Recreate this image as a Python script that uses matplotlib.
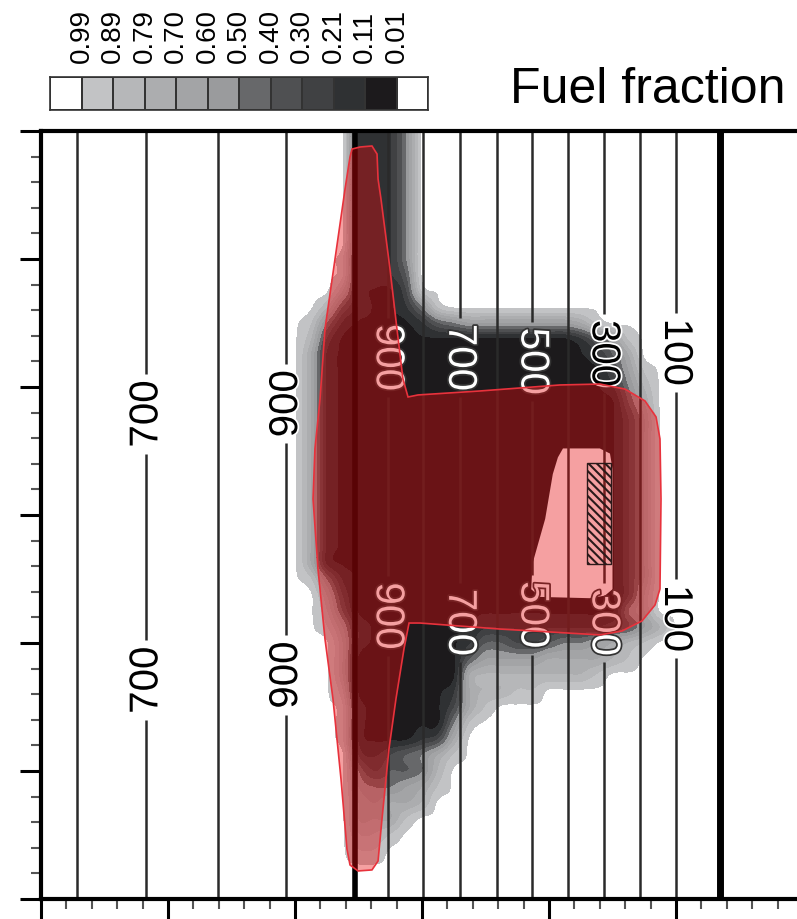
import matplotlib
matplotlib.use('Agg')
import matplotlib.pyplot as plt
import matplotlib.patheffects as pe
import numpy as np
from matplotlib.colors import ListedColormap, BoundaryNorm
from matplotlib.patches import Polygon, Rectangle
from matplotlib.ticker import MultipleLocator

plt.rcParams['font.family'] = 'Liberation Sans'
plt.rcParams['hatch.linewidth'] = 1.5

# fuel fraction bands of the colour bar and their greys (low -> high)
levels = [0.01, 0.11, 0.21, 0.30, 0.40, 0.50, 0.60, 0.70, 0.79, 0.89, 0.99]
band_colors = ['#1c1a1c', '#2f3133', '#404143', '#4f5052', '#67686a',
               '#9a9b9d', '#a3a4a6', '#acadaf', '#b6b7b9', '#c2c3c5']

# fuel field read on a grid (x 2.0..5.25, y 6.0..0.0, step 0.125)
# each digit = burnt share in tenths, fuel fraction = 1 - digit/10
grid_x = np.linspace(2.0, 5.25, 27)
grid_y = np.linspace(6.0, 0.0, 49)
burnt_rows = [
    "000088850000000000000000000",
    "000088850000000000000000000",
    "000088850000000000000000000",
    "000088850000000000000000000",
    "000088850000000000000000000",
    "000088850000000000000000000",
    "000088850000000000000000000",
    "000088850000000000000000000",
    "000188850000000000000000000",
    "000188860000000000000000000",
    "000389971000000000000000000",
    "002689985100000000000000000",
    "015899998654444444310000000",
    "027999999999999999864100000",
    "038999999999999999986300000",
    "038999999999999999997410000",
    "038999999999999999998520000",
    "038999999999999999999630000",
    "038999999999999999999740000",
    "038999999999999999999740000",
    "038999999999999999999740000",
    "038999999999999999999740000",
    "038999999999999999999740000",
    "038999999999999999999740000",
    "038999999999999999999740000",
    "038999999999999999999740000",
    "038999999999999999999740000",
    "038999999999999999999740000",
    "015899999999999999999740000",
    "003799999999999999999730000",
    "002699999999999999999530000",
    "001489999999888888887642000",
    "000389999998667765543210000",
    "000399999996444433332100000",
    "000399999993222222210000000",
    "000299999983221100000000000",
    "000189999973100000000000000",
    "000189999951000000000000000",
    "000189998730000000000000000",
    "000078765310000000000000000",
    "000057665200000000000000000",
    "000045543100000000000000000",
    "000034332000000000000000000",
    "000033310000000000000000000",
    "000022100000000000000000000",
    "000011000000000000000000000",
    "000000000000000000000000000",
    "000000000000000000000000000",
    "000000000000000000000000000",
]
fuel = 1 - np.array([[int(c) for c in row] for row in burnt_rows]) / 10

# fully consumed zone around the burner (fuel < 0.01)
depleted_x = [4.11, 4.40, 4.48, 4.50, 4.50, 4.44, 4.32, 3.93, 3.86, 3.87, 3.97, 4.03, 4.07]
depleted_y = [3.52, 3.52, 3.48, 3.36, 2.42, 2.37, 2.35, 2.36, 2.42, 2.62, 2.97, 3.32, 3.45]

# burner (hatched): x, y, width, height
burner = (4.30, 2.62, 0.19, 0.79)

# flame region (red overlay)
flame_x = [2.449, 2.512, 2.606, 2.646, 2.654, 2.677, 2.748, 2.803, 2.850, 2.890,
           2.969, 3.457, 4.087, 4.402, 4.598, 4.756, 4.843, 4.874, 4.882, 4.874,
           4.835, 4.732, 4.575, 4.402, 3.614, 2.984, 2.898, 2.858, 2.795, 2.740,
           2.685, 2.654, 2.606, 2.496, 2.433, 2.409, 2.362, 2.299, 2.236, 2.181,
           2.142, 2.157, 2.197, 2.236, 2.315, 2.394, 2.433]
flame_y = [5.859, 5.875, 5.883, 5.820, 5.625, 5.469, 4.922, 4.453, 4.063, 3.922,
           3.938, 3.969, 4.016, 4.023, 3.984, 3.891, 3.766, 3.594, 3.125, 2.422,
           2.297, 2.172, 2.094, 2.063, 2.109, 2.156, 2.156, 1.953, 1.563, 1.172,
           0.625, 0.297, 0.227, 0.219, 0.266, 0.391, 0.938, 1.563, 2.031, 2.578,
           3.125, 3.516, 3.906, 4.453, 5.000, 5.547, 5.797]

# isotherms (vertical) and the two walls
iso_x = [0.28, 0.83, 1.39, 1.93, 2.73, 3.01, 3.30, 3.59, 3.87, 4.15, 4.43, 4.72, 5.00]
iso_T = [600, 700, 800, 900, 900, 800, 700, 600, 500, 400, 300, 200, 100]
wall_x = [2.47, 5.35]

# which isotherms carry a label, and where
label_line = [1, 3, 1, 3, 4, 6, 8, 10, 12, 4, 6, 8, 10, 12]
label_y = [3.79, 3.87, 1.71, 1.75, 4.23, 4.23, 4.20, 4.26, 4.27, 2.21, 2.16, 2.22, 2.16, 2.19]
label_color = ['k', 'k', 'k', 'k', 'w', 'w', 'w', 'k', 'k', 'w', 'w', 'w', 'w', 'k']

W, H = 797, 920
fig = plt.figure(figsize=(W / 100, H / 100), dpi=100)
ax = fig.add_axes([41 / W, 20 / H, 7 * 127 / W, 768 / H])

cmap = ListedColormap(band_colors).with_extremes(under='white', over='white')
norm = BoundaryNorm(levels, cmap.N)

dx = grid_x[1] - grid_x[0]
dy = grid_y[0] - grid_y[1]
ax.imshow(fuel, cmap=cmap, norm=norm, origin='upper', aspect='auto',
          extent=[grid_x[0] - dx / 2, grid_x[-1] + dx / 2,
                  grid_y[-1] - dy / 2, grid_y[0] + dy / 2],
          interpolation='catrom', interpolation_stage='data', zorder=0)
ax.add_patch(Polygon(np.column_stack([depleted_x, depleted_y]), closed=True,
                     facecolor='white', edgecolor='none', zorder=0.5))

# isotherm lines, broken where a label sits
gap = 0.31
for i, (x, T) in enumerate(zip(iso_x, iso_T)):
    ys = sorted(label_y[k] for k in range(len(label_line)) if label_line[k] == i)
    lo = 0.0
    for yl in ys:
        ax.vlines(x, lo, yl - gap, color='#2a2a2a', lw=1.8, zorder=1)
        lo = yl + gap
    ax.vlines(x, lo, 6.0, color='#2a2a2a', lw=1.8, zorder=1)
ax.vlines(wall_x[0], 0, 6, color='black', lw=4.0, zorder=1)
ax.vlines(wall_x[1], 0, 6, color='black', lw=5.0, zorder=1)

for k, i in enumerate(label_line):
    rot = 90 if iso_x[i] < wall_x[0] else -90
    halo = 'white' if label_color[k] == 'k' else '#333333'
    ax.text(iso_x[i], label_y[k], str(iso_T[i]), rotation=rot, ha='center', va='center',
            fontsize=29, color=label_color[k], zorder=2,
            path_effects=[pe.withStroke(linewidth=2.5, foreground=halo)])

ax.add_patch(Polygon(np.column_stack([flame_x, flame_y]), closed=True,
                     facecolor=(0.90, 0.04, 0.05, 0.39), edgecolor='#e8323c',
                     lw=1.2, zorder=4))
ax.add_patch(Rectangle(burner[:2], burner[2], burner[3], fill=False, hatch='\\\\\\\\',
                       edgecolor='#2a1a1a', lw=1.0, zorder=5))

ax.set_xlim(0, 7)
ax.set_ylim(0, 6)
for s in ax.spines.values():
    s.set_linewidth(3)
ax.xaxis.set_major_locator(MultipleLocator(1))
ax.xaxis.set_minor_locator(MultipleLocator(0.2))
ax.yaxis.set_major_locator(MultipleLocator(1))
ax.yaxis.set_minor_locator(MultipleLocator(0.2))
ax.tick_params(which='major', direction='out', length=15, width=2.2,
               labelbottom=False, labelleft=False)
ax.tick_params(which='minor', direction='out', length=7, width=1.5, color='#555555')

# colour bar (0.99 on the left, as in the figure)
cax = fig.add_axes([50 / W, 809 / H, 378 / W, 33 / H])
mids = [(a + b) / 2 for a, b in zip(levels[:-1], levels[1:])]
cells = [1.0] + mids[::-1] + [0.0]
cax.pcolormesh(np.arange(len(cells) + 1), [0, 1], [cells], cmap=cmap, norm=norm,
               edgecolors='#333333', linewidth=1.2)
cax.set_xlim(0, len(cells))
cax.set_ylim(0, 1)
cax.set_xticks(np.arange(1, len(cells)))
cax.set_xticklabels([f'{v:.2f}' for v in levels[::-1]])
cax.xaxis.tick_top()
cax.tick_params(axis='x', length=0, pad=11, labelsize=20, labelrotation=90)
cax.set_yticks([])
for s in cax.spines.values():
    s.set_linewidth(1.2)
    s.set_color('#333333')

fig.text(510 / W, (H - 103) / H, 'Fuel fraction', fontsize=36, ha='left', va='baseline')

fig.savefig('out.png', dpi=100)
